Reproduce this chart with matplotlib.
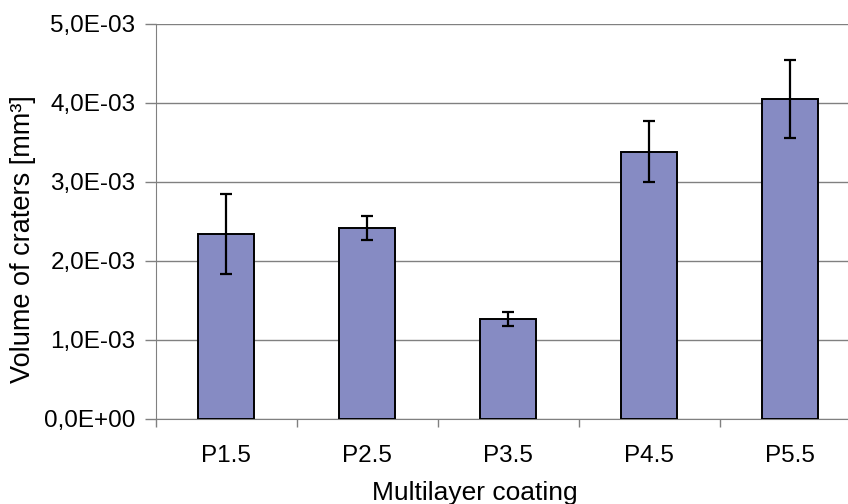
import matplotlib
matplotlib.use("Agg")
import matplotlib.pyplot as plt
import numpy as np

coatings = ['P1.5', 'P2.5', 'P3.5', 'P4.5', 'P5.5']
volume = [2.34e-3, 2.42e-3, 1.26e-3, 3.38e-3, 4.05e-3]
volume_err = [0.51e-3, 0.15e-3, 0.09e-3, 0.385e-3, 0.49e-3]

plt.rcParams['font.family'] = ['Liberation Sans', 'DejaVu Sans']

fig = plt.figure(figsize=(8.48, 5.04), dpi=100)
ax = fig.add_axes([0.1834, 0.1687, 0.8314, 0.7843])

x = np.arange(len(coatings))
ax.bar(x, volume, width=0.40, color='#868bc3', edgecolor='black', linewidth=1.4,
       zorder=3)
ax.errorbar(x, volume, yerr=volume_err, fmt='none', ecolor='black',
            elinewidth=1.6, capsize=4.3, capthick=1.6, zorder=4)

ax.set_xlim(-0.5, len(coatings) - 0.5)
ax.set_ylim(0, 5e-3)
ax.set_yticks(np.arange(0, 5.01e-3, 1e-3))
ax.set_yticklabels(['0,0E+00', '1,0E-03', '2,0E-03', '3,0E-03', '4,0E-03', '5,0E-03'])
ax.set_xticks(x)
ax.set_xticklabels(coatings)
ax.set_xticks(np.arange(-0.5, len(coatings), 1.0), minor=True)

ax.tick_params(axis='x', which='major', length=0, pad=19, labelsize=17.5)
ax.tick_params(axis='x', which='minor', length=6, color='#808080', width=1)
ax.tick_params(axis='y', length=8, color='#808080', width=1, pad=6.5, labelsize=17.5)

ax.grid(axis='y', color='#808080', linewidth=1.0, zorder=0)
ax.set_axisbelow(True)
for s in ['top', 'right']:
    ax.spines[s].set_visible(False)
ax.spines['left'].set_color('#808080')
ax.spines['bottom'].set_color('#808080')

ax.set_xlabel('Multilayer coating', fontsize=19, va='top')
ax.xaxis.set_label_coords(0.453, -0.158)
ax.set_ylabel('Volume of craters [mm³]', fontsize=19.5, va='center')
ax.yaxis.set_label_coords(-0.188, 0.455)

fig.savefig('out.png', dpi=100)
